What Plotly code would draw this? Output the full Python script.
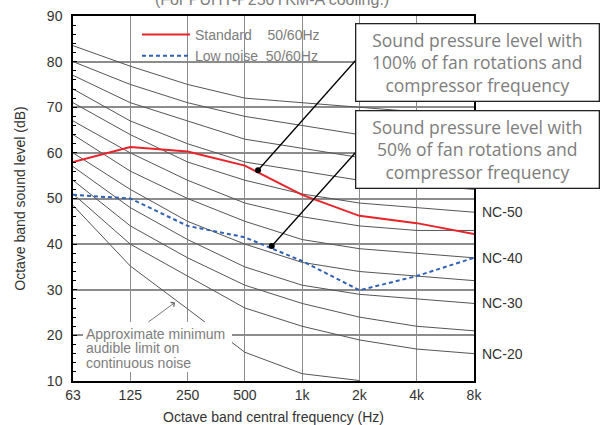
import plotly.graph_objects as go

freqs = ["63", "125", "250", "500", "1k", "2k", "4k", "8k"]

nc_names = ["NC-20", "NC-25", "NC-30", "NC-35", "NC-40", "NC-45",
            "NC-50", "NC-55", "NC-60", "NC-65", "NC-70"]
nc_values = [
    [51, 40, 33, 26, 22, 19, 17, 16],
    [54, 44, 37, 31, 27, 24, 22, 21],
    [57, 48, 41, 35, 31, 29, 28, 27],
    [60, 52, 45, 40, 36, 34, 33, 32],
    [64, 56, 50, 45, 41, 39, 38, 37],
    [67, 60, 54, 49, 46, 44, 43, 43],
    [71, 64, 58, 54, 51, 49, 48, 47],
    [74, 67, 62, 58, 56, 54, 53, 52],
    [77, 71, 67, 63, 61, 59, 58, 57],
    [80, 75, 71, 68, 66, 64, 63, 62],
    [83.5, 79, 75, 72, 71, 70, 69, 68],
]
nc_labelled = ["NC-20", "NC-30", "NC-40", "NC-50"]

min_audible_freqs = ["63", "125", "250", "500", "1k", "2k"]
min_audible = [48.5, 35.2, 25.8, 16.3, 11.6, 10.1]

standard = [58.0, 61.3, 60.3, 57.2, 50.8, 46.2, 44.6, 42.2]
low_noise = [50.8, 50.0, 44.0, 41.5, 36.3, 29.9, 33.0, 37.0]

# callout points (position between bands, value in dB)
pt_std = (3.23, 56.2)
pt_low = (3.47, 39.6)

box1_text = "Sound pressure level with<br>100% of fan rotations and<br>compressor frequency"
box2_text = "Sound pressure level with<br>50% of fan rotations and<br>compressor frequency"
note_lines = ["Approximate minimum", "audible limit on", "continuous noise"]
title_text = "(For PUHY-P250YKM-A cooling.)"

# ---- geometry (pixel positions measured on the reference) ----
FW, FH = 605, 425
L, R, T, B = 73, 474, 16, 381
W, H = R - L, B - T


def px_to_x(px):
    return (px - L) / W * 7


def py_to_y(py):
    return 90 - (py - T) / H * 80


def px_to_paper(px):
    return (px - L) / W


def py_to_paper(py):
    return (B - py) / H


xi = {f: i for i, f in enumerate(freqs)}

fig = go.Figure()

for name, vals in zip(nc_names, nc_values):
    fig.add_trace(go.Scatter(x=[xi[f] for f in freqs], y=vals, mode="lines",
                             line=dict(color="#555555", width=1),
                             showlegend=False, hoverinfo="skip"))

fig.add_trace(go.Scatter(x=[xi[f] for f in min_audible_freqs], y=min_audible,
                         mode="lines", line=dict(color="#555555", width=1),
                         showlegend=False, hoverinfo="skip"))

fig.add_trace(go.Scatter(x=[xi[f] for f in freqs], y=standard, mode="lines",
                         line=dict(color="#e8232a", width=2),
                         name="Standard\u00a0\u00a0\u00a0\u00a050/60Hz"))
fig.add_trace(go.Scatter(x=[xi[f] for f in freqs], y=low_noise, mode="lines",
                         line=dict(color="#2f62b5", width=2, dash="4px,3px"),
                         name="Low noise\u00a0\u00a050/60Hz"))

fig.add_trace(go.Scatter(x=[pt_std[0], pt_low[0]], y=[pt_std[1], pt_low[1]],
                         mode="markers", marker=dict(color="black", size=6),
                         showlegend=False, hoverinfo="skip"))

# white patch behind legend covering grid lines
fig.add_shape(type="rect", xref="paper", yref="paper", x0=px_to_paper(140),
              x1=px_to_paper(356), y0=py_to_paper(67), y1=0.997,
              fillcolor="white", line_width=0, layer="between")

grey_txt = "#7d7d7d"
# callout boxes + leader lines
for txt, top, bot, pt, yend in [(box1_text, 23, 102, pt_std, 60),
                                (box2_text, 111, 188, pt_low, 152)]:
    fig.add_shape(type="line", xref="x", yref="y", x0=pt[0], y0=pt[1],
                  x1=px_to_x(356), y1=py_to_y(yend),
                  line=dict(color="black", width=1.3), layer="above")
    fig.add_annotation(xref="paper", yref="paper", x=px_to_paper(355),
                       y=py_to_paper((top + bot) / 2),
                       xanchor="left", yanchor="middle", text=txt, showarrow=False,
                       font=dict(family="Open Sans", size=17.5, color=grey_txt),
                       bgcolor="white", bordercolor="#222222", borderwidth=1.3,
                       borderpad=2, width=238, height=72, align="center")

# min audible label
fig.add_shape(type="rect", xref="paper", yref="paper", x0=px_to_paper(83),
              x1=px_to_paper(232), y0=py_to_paper(372), y1=py_to_paper(322),
              fillcolor="white", line_width=0, layer="above")
for k, line in enumerate(note_lines):
    fig.add_annotation(xref="paper", yref="paper", x=px_to_paper(84),
                       y=py_to_paper(333.5 + 14.5 * k), xanchor="left",
                       yanchor="middle", text=line, showarrow=False,
                       font=dict(family="Liberation Sans", size=14, color=grey_txt))
fig.add_annotation(xref="x", yref="y", x=px_to_x(175), y=py_to_y(302.5),
                   ax=px_to_x(147), ay=py_to_y(323),
                   axref="x", ayref="y", showarrow=True, arrowhead=4, arrowsize=1.3,
                   arrowwidth=0.8, arrowcolor="#555555", text="")

# NC labels
for name, vals in zip(nc_names, nc_values):
    if name in nc_labelled:
        fig.add_annotation(xref="x", yref="y", x=7, y=vals[-1], xanchor="left",
                           xshift=6, text=name, showarrow=False,
                           font=dict(family="Liberation Sans", size=14, color="#333333"))

# cut-off title (only its lower half is visible in the reference)
fig.add_annotation(xref="paper", yref="paper", x=px_to_paper(272), y=py_to_paper(-1),
                   yanchor="middle", text=title_text, showarrow=False,
                   font=dict(family="Liberation Sans", size=16, color=grey_txt))

fig.update_layout(
    width=FW, height=FH,
    margin=dict(l=L, r=FW - R, t=T, b=FH - B, autoexpand=False),
    paper_bgcolor="white", plot_bgcolor="white",
    font=dict(family="Liberation Sans", size=14, color="#333333"),
    legend=dict(x=px_to_paper(137), y=py_to_paper(19), xanchor="left", yanchor="top",
                bgcolor="rgba(0,0,0,0)", font=dict(size=14, color=grey_txt),
                itemwidth=48, tracegroupgap=0),
    xaxis=dict(range=[0, 7], tickvals=list(range(8)), ticktext=freqs,
               showgrid=True, gridcolor="#8c8c8c", gridwidth=1.2,
               showline=True, linecolor="black", linewidth=2, mirror=True,
               ticks="", zeroline=False, automargin=False, ticklabeloverflow="allow",
               title=dict(text="Octave band central frequency (Hz)", standoff=12,
                          font=dict(size=14))),
    yaxis=dict(range=[10, 90], dtick=10, showgrid=True, gridcolor="#8c8c8c",
               gridwidth=1.5, showline=True, linecolor="black", linewidth=1.5,
               mirror=True, ticks="inside", ticklen=4, tickcolor="black",
               minor=dict(dtick=2, ticks="inside", ticklen=3, tickcolor="black",
                          showgrid=False),
               zeroline=False, automargin=False, ticklabelstandoff=6,
               ticklabeloverflow="allow",
               title=dict(text="Octave band sound level (dB)", standoff=18,
                          font=dict(size=14))),
)

fig.write_html("out.html", config={"displayModeBar": False},
               post_script="document.body.style.margin='0px';")
